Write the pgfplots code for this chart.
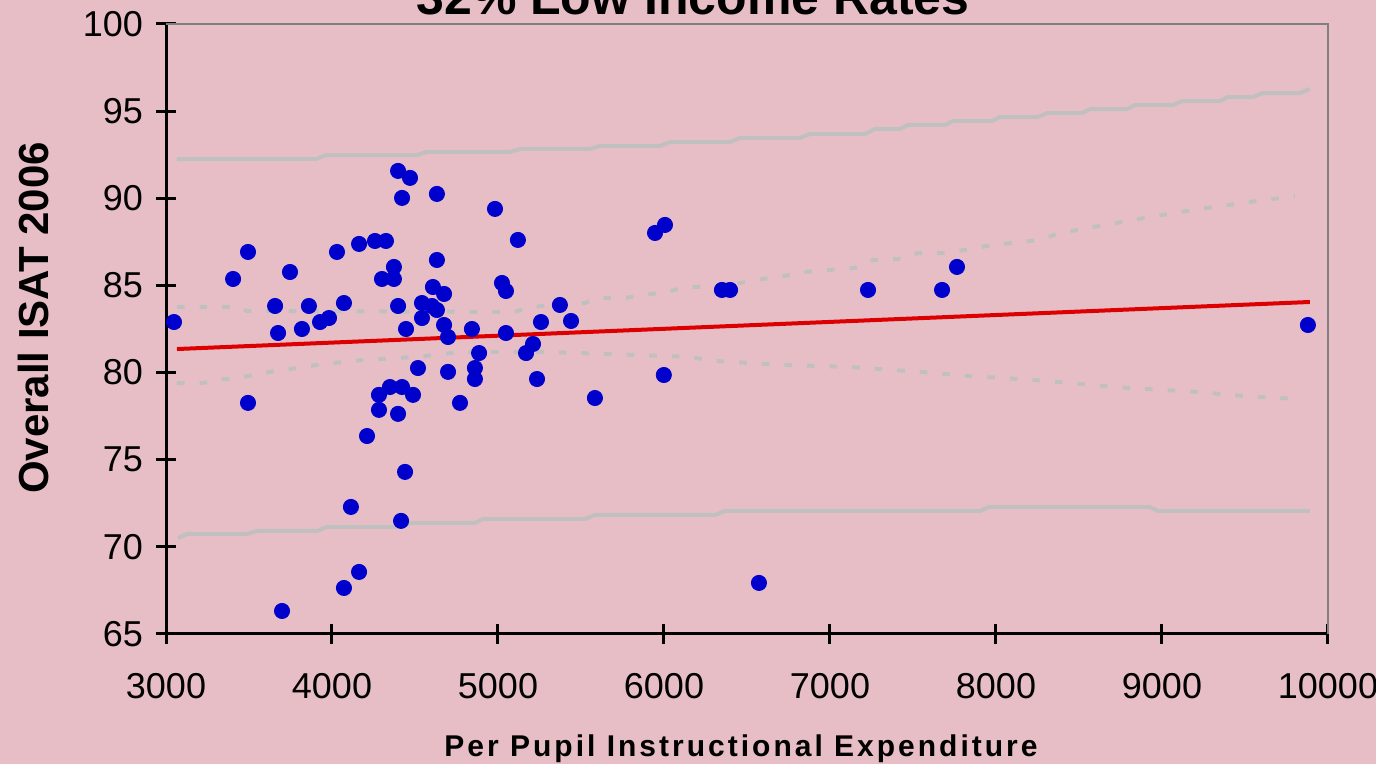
\documentclass[border=0pt]{standalone}
\usepackage{pgfplots}
\pgfplotsset{compat=1.18}
\usepackage{fontspec}
\setmainfont{Liberation Sans}

\definecolor{bgpink}{RGB}{231,190,198}
\definecolor{ptblue}{RGB}{0,0,204}
\definecolor{fitred}{RGB}{221,0,0}
\definecolor{bandgray}{RGB}{192,192,192}
\definecolor{framegray}{RGB}{128,128,128}

\begin{document}
\begin{tikzpicture}[x=1pt,y=1pt]
\fill[bgpink] (0,0) rectangle (688,382);
\useasboundingbox (0,0) rectangle (688,382);

\begin{axis}[
    at={(83pt,65pt)}, anchor=south west,
    scale only axis, width=581pt, height=305pt,
    xmin=3000, xmax=10000, ymin=65, ymax=100,
    xtick={3000,4000,...,10000},
    ytick={65,70,...,100},
    scaled ticks=false,
    /pgf/number format/1000 sep={},
    /pgf/number format/assume math mode=true,
    axis x line*=bottom, axis y line*=left,
    axis line style={black, line width=1.5pt, -},
    tick align=center,
    major tick length=10pt,
    every tick/.style={black, line width=1.5pt},
    tick label style={font=\fontsize{18}{20}\selectfont},
    xticklabel style={yshift=-11pt},
    yticklabel style={xshift=-3pt},
    clip=false,
]

% frame on top and right
\draw[framegray, line width=1pt] (axis cs:3000,100) -- (axis cs:10000,100) -- (axis cs:10000,65);

% upper prediction limit
\addplot[bandgray, line width=2pt] coordinates {
(3066,92.25)(3904,92.25)(3964,92.48)(4512,92.48)(4572,92.66)(5072,92.66)
(5133,92.83)(5554,92.83)(5614,93.00)(5976,93.00)(6036,93.23)(6398,93.23)
(6458,93.46)(6819,93.46)(6879,93.69)(7211,93.69)(7271,93.98)(7422,93.98)
(7470,94.21)(7693,94.21)(7741,94.44)(7976,94.44)(8024,94.66)(8253,94.66)
(8307,94.89)(8518,94.89)(8566,95.12)(8789,95.12)(8837,95.35)(9066,95.35)
(9120,95.58)(9349,95.58)(9397,95.81)(9548,95.81)(9608,96.04)(9831,96.04)
(9891,96.27)
};

% lower prediction limit
\addplot[bandgray, line width=2pt] coordinates {
(3072,70.51)(3127,70.74)(3488,70.74)(3548,70.91)(3910,70.91)(3970,71.14)
(4416,71.14)(4470,71.37)(4861,71.37)(4910,71.60)(5524,71.60)(5584,71.83)
(6307,71.83)(6367,72.06)(7904,72.06)(7958,72.29)(8928,72.29)(8976,72.06)
(9891,72.06)
};

% upper confidence limit
\addplot[bandgray, line width=2pt, dash pattern=on 3.8pt off 7.5pt] coordinates {
(3066,83.76)(3446,83.76)(3488,83.53)(5102,83.48)(5193,83.76)(5373,83.88)
(5524,83.99)(5596,84.28)(5765,84.28)(5886,84.45)(6036,84.68)(6139,84.91)
(6307,84.91)(6458,85.14)(6596,85.37)(6729,85.54)(6837,85.77)(7151,86.00)
(7259,86.46)(7434,86.52)(7530,86.86)(7705,86.86)(7843,87.09)(7982,87.32)
(8265,87.61)(8386,88.01)(8626,88.41)(8928,88.93)(9229,89.39)(9530,89.79)
(9801,90.13)
};

% lower confidence limit
\addplot[bandgray, line width=2pt, dash pattern=on 3.8pt off 7.5pt] coordinates {
(3066,79.40)(3223,79.40)(3325,79.63)(3398,79.63)(3626,80.04)(3789,80.26)
(3946,80.49)(4187,80.72)(4512,80.90)(4771,81.18)(5313,81.18)(6157,80.90)
(6295,80.67)(6717,80.44)(7120,80.32)(7542,80.04)(7825,79.81)(8223,79.58)
(8506,79.35)(8789,79.12)(9211,78.89)(9488,78.66)(9801,78.49)
};

% regression line
\addplot[fitred, line width=2pt] coordinates {(3066,81.35)(9891,84.05)};

% schools
\addplot[only marks, mark=*, mark size=3.8pt, mark options={fill=ptblue, draw=ptblue}] coordinates {
(3048,82.90)(3404,85.37)(3494,86.92)(3494,78.26)(3657,83.82)(3675,82.27)
(3747,85.77)(3699,66.32)(3819,82.50)(3861,83.82)(3928,82.90)(3982,83.13)
(4030,86.92)(4072,83.99)(4072,67.64)(4114,72.29)(4163,87.38)(4163,68.56)
(4211,76.36)(4259,87.55)(4283,77.86)(4283,78.72)(4325,87.55)(4301,85.37)
(4349,79.17)(4373,86.06)(4373,85.37)(4398,91.57)(4398,83.82)(4398,77.63)
(4422,79.17)(4422,90.02)(4416,71.49)(4440,74.30)(4446,82.50)(4470,91.17)
(4488,78.72)(4518,80.26)(4542,83.13)(4542,83.99)(4602,83.82)(4608,84.91)
(4632,83.59)(4632,90.25)(4632,86.46)(4675,84.51)(4675,82.73)(4699,82.04)
(4699,80.04)(4771,78.26)(4843,82.50)(4861,80.26)(4861,79.63)(4886,81.12)
(4982,89.39)(5024,85.14)(5048,84.68)(5048,82.27)(5120,87.61)(5169,81.12)
(5211,81.64)(5235,79.63)(5259,82.90)(5373,83.88)(5440,82.96)(5584,78.54)
(5946,88.01)(6006,88.47)(5999,79.86)(6349,84.74)(6398,84.74)(6572,67.93)
(7229,84.74)(7675,84.74)(7765,86.06)(9879,82.73)
};
\end{axis}

\node[anchor=base, font=\fontsize{25}{30}\selectfont\bfseries] at (346.5,374.5) {32\% Low Income Rates};
\node[anchor=base, font=\fontsize{15}{18}\selectfont\bfseries\addfontfeature{LetterSpace=10}] at (370.5,3.5) {Per Pupil Instructional Expenditure};
\node[rotate=90, anchor=base, font=\fontsize{21}{24}\selectfont\bfseries] at (24,223) {Overall ISAT 2006};
\end{tikzpicture}
\end{document}
